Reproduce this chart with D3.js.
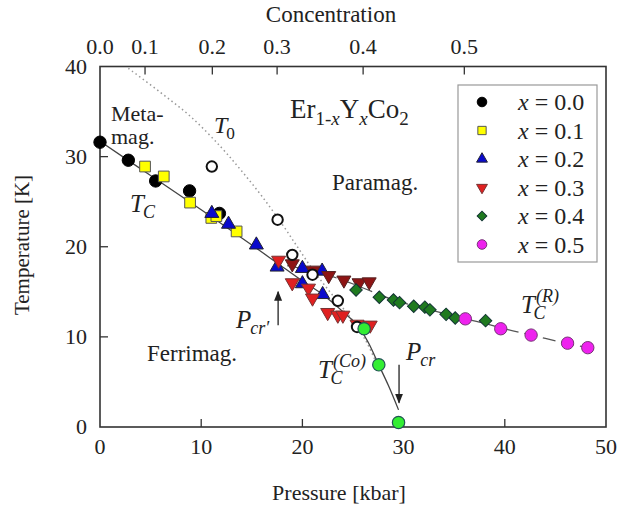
<!DOCTYPE html>
<html>
<head>
<meta charset="utf-8">
<script src="https://cdn.jsdelivr.net/npm/d3@7/dist/d3.min.js"></script>
</head>
<body style="margin:0">
<svg id="c" width="618" height="510"></svg>
<script>
// Er(1-x)Y(x)Co2 magnetic phase diagram: ordering temperature vs pressure

// measured ordering temperatures [pressure kbar, T K]
const x00 = [[0, 31.6], [2.8, 29.6], [5.5, 27.3], [8.85, 26.2], [11.8, 23.7]];
const x01 = [[4.45, 28.9], [6.3, 27.8], [8.9, 24.9], [11.0, 23.2], [11.5, 23.4], [13.5, 21.7]];
const x02 = [[11.05, 23.7], [12.7, 22.5], [15.45, 20.2], [17.5, 17.75], [20.0, 17.6],
             [21.95, 17.3], [20.0, 15.9], [22.0, 14.7]];
const x03Co = [[17.65, 18.5], [19.0, 16.0], [20.6, 15.4], [21.0, 14.3], [22.5, 12.7],
               [23.5, 12.4], [24.0, 12.4], [25.4, 11.4], [26.7, 11.3]];
const x03R = [[19.0, 18.1], [21.05, 17.4], [22.6, 16.8], [24.1, 16.3], [25.6, 16.0], [26.6, 16.1]];
const x04 = [[25.3, 15.2], [27.6, 14.4], [29.0, 14.1], [29.6, 13.8], [31.0, 13.4], [32.1, 13.3],
             [32.6, 13.0], [34.2, 12.5], [35.1, 12.1], [38.1, 11.8]];
const x05 = [[36.1, 12.0], [39.6, 10.9], [42.6, 10.2], [46.2, 9.3], [48.2, 8.8]];
const x04Co = [[26.1, 10.9], [27.55, 6.9], [29.5, 0.5]];
const t0Points = [[11.05, 28.9], [17.55, 23.0], [19.0, 19.1], [21.0, 16.9], [23.5, 14.0], [25.4, 11.1]];

// guide curves
const tcLine = [[0, 31.7], [5, 27.9], [10, 24.1], [15, 20.2], [17.5, 18.2], [20, 16.2], [22, 14.7],
                [24, 12.8], [25.5, 11.2], [26.5, 9.4], [27.5, 7.0], [28.5, 4.6], [29.5, 1.9]];
const tcRLine = [[18.5, 17.9], [21, 17.3], [24, 16.3], [26.5, 15.2], [29, 14.1], [32, 13.2],
                 [35, 12.3], [38, 11.5], [40, 10.9], [43, 10.1], [46, 9.3], [48.2, 8.8]];
const t0Line = [[2.8, 39.8], [6, 37.1], [9, 34.4], [12, 31.0], [14, 28.4], [16, 25.6], [18, 22.5],
                [19.5, 20.0], [21, 17.5], [22.5, 15.3], [24, 13.2], [25.3, 11.3], [26.3, 9.5], [27.2, 7.4]];

// axis ticks
const pressureTicks = [0, 10, 20, 30, 40, 50];
const tempTicks = [0, 10, 20, 30, 40];
const concLabels = ["0.0", "0.1", "0.2", "0.3", "0.4", "0.5"];
const concPressure = [0, 4.45, 11.1, 17.5, 26.0, 36.0];
const legendLabels = ["0.0", "0.1", "0.2", "0.3", "0.4", "0.5"];

const serif = "'Tinos'";
const svg = d3.select("#c");
const x = d3.scaleLinear().domain([0, 50]).range([100, 606]);
const y = d3.scaleLinear().domain([0, 40]).range([427, 66.5]);
const ink = "#222";

// every text node goes through this helper
function txt(parent, tx, ty, fs) {
  return parent.append("text").attr("x", tx).attr("y", ty).attr("fill", ink)
    .attr("font-size", fs).style("font-family", serif);
}

// frame and inward ticks drawn from the scales
const frame = svg.append("g");
frame.append("rect")
  .attr("x", x(0)).attr("y", y(40))
  .attr("width", x(50) - x(0)).attr("height", y(0) - y(40))
  .attr("fill", "none").attr("stroke", "#333").attr("stroke-width", 1.6);
pressureTicks.slice(1, -1).forEach(p => {
  frame.append("line").attr("x1", x(p)).attr("x2", x(p)).attr("y1", y(0)).attr("y2", y(0) - 8)
    .attr("stroke", "#333").attr("stroke-width", 1.3);
});
tempTicks.slice(1, -1).forEach(t => {
  frame.append("line").attr("x1", x(0)).attr("x2", x(0) + 8).attr("y1", y(t)).attr("y2", y(t))
    .attr("stroke", "#333").attr("stroke-width", 1.3);
});
concPressure.slice(1).forEach(p => {
  frame.append("line").attr("x1", x(p)).attr("x2", x(p)).attr("y1", y(40)).attr("y2", y(40) + 8)
    .attr("stroke", "#333").attr("stroke-width", 1.3);
});
pressureTicks.forEach(p => txt(svg, x(p), y(0) + 27, 22).attr("text-anchor", "middle").text(p));
tempTicks.forEach(t => txt(svg, x(0) - 13, y(t) + 7, 22).attr("text-anchor", "end").text(t));
concPressure.forEach((p, i) => txt(svg, x(p), y(40) - 13, 22).attr("text-anchor", "middle").text(concLabels[i]));

// axis titles
txt(svg, 339, 500, 22).attr("text-anchor", "middle").text("Pressure [kbar]");
txt(svg, 331, 22, 23).attr("text-anchor", "middle").text("Concentration");
txt(svg, 0, 0, 21).attr("transform", "translate(29,245) rotate(-90)").attr("text-anchor", "middle")
  .text("Temperature [K]");

// guide curves
const smooth = d3.line().x(d => x(d[0])).y(d => y(d[1])).curve(d3.curveCatmullRom);
svg.append("path").datum(t0Line).attr("d", smooth)
  .attr("fill", "none").attr("stroke", "#999").attr("stroke-width", 1.5).attr("stroke-dasharray", "1.5,3");
svg.append("path").datum(tcLine).attr("d", smooth)
  .attr("fill", "none").attr("stroke", "#444").attr("stroke-width", 1.3);
svg.append("path").datum(tcRLine).attr("d", d3.line().x(d => x(d[0])).y(d => y(d[1])).curve(d3.curveMonotoneX))
  .attr("fill", "none").attr("stroke", "#555").attr("stroke-width", 1.3).attr("stroke-dasharray", "13,6");

// markers
function plot(data, type, size, fill, stroke, rot, sw) {
  svg.append("g").selectAll("path").data(data).join("path")
    .attr("d", d3.symbol().type(type).size(size)())
    .attr("transform", d => `translate(${x(d[0])},${y(d[1])}) rotate(${rot || 0})`)
    .attr("fill", fill).attr("stroke", stroke).attr("stroke-width", sw || 1);
}
const styles = [
  { type: d3.symbolCircle, size: 120, fill: "#000", stroke: "#000", rot: 0 },
  { type: d3.symbolSquare, size: 115, fill: "#ffff00", stroke: "#555", rot: 0 },
  { type: d3.symbolTriangle, size: 85, fill: "#0a0acc", stroke: "#223", rot: 0 },
  { type: d3.symbolTriangle, size: 85, fill: "#e02020", stroke: "#733", rot: 180 },
  { type: d3.symbolSquare, size: 78, fill: "#1f7a1f", stroke: "#133", rot: 45 },
  { type: d3.symbolCircle, size: 120, fill: "#ee22ee", stroke: "#737", rot: 0 }
];
plot(x00, styles[0].type, styles[0].size, styles[0].fill, styles[0].stroke);
plot(x01, styles[1].type, styles[1].size, styles[1].fill, styles[1].stroke);
plot(x02, styles[2].type, styles[2].size, styles[2].fill, styles[2].stroke);
plot(x03R, styles[3].type, styles[3].size, "#8e1414", "#522", 180);
plot(x03Co, styles[3].type, styles[3].size, styles[3].fill, styles[3].stroke, 180);
plot(t0Points, d3.symbolCircle, 85, "#fff", "#111", 0, 2);
plot(x04, styles[4].type, styles[4].size, styles[4].fill, styles[4].stroke, 45);
plot(x05, styles[5].type, styles[5].size, styles[5].fill, styles[5].stroke);
plot(x04Co, d3.symbolCircle, 120, "#33ee33", "#255", 0, 1.2);

// legend
svg.append("rect").attr("x", 458).attr("y", 85).attr("width", 139).attr("height", 177)
  .attr("fill", "#fff").attr("stroke", "#999").attr("stroke-width", 1.2);
styles.forEach((s, i) => {
  const cy = 102 + i * 28.5;
  svg.append("path").attr("d", d3.symbol().type(s.type).size(s.size * 0.6)())
    .attr("transform", `translate(482,${cy}) rotate(${s.rot})`)
    .attr("fill", s.fill).attr("stroke", s.stroke).attr("stroke-width", 1);
  const t = txt(svg, 518, cy + 8, 24);
  t.append("tspan").attr("font-style", "italic").text("x");
  t.append("tspan").text(" = " + legendLabels[i]);
});

// compound formula
const f = txt(svg, 290, 118, 27);
f.append("tspan").text("Er");
f.append("tspan").attr("font-size", 19).attr("dy", 7).text("1-");
f.append("tspan").attr("font-size", 19).attr("font-style", "italic").text("x");
f.append("tspan").attr("dy", -7).text("Y");
f.append("tspan").attr("font-size", 19).attr("font-style", "italic").attr("dy", 7).text("x");
f.append("tspan").attr("dy", -7).text("Co");
f.append("tspan").attr("font-size", 19).attr("dy", 7).text("2");

// region labels
txt(svg, 111, 121, 22).text("Meta-");
txt(svg, 111, 144, 22).text("mag.");
txt(svg, 332, 190, 23).text("Paramag.");
txt(svg, 147, 361, 23).text("Ferrimag.");

// italic symbol with sub/superscripts, one text element each
function sym2(tx, ty, main, sub, sup, fs) {
  const t = txt(svg, tx, ty, fs);
  const small = fs * 0.72;
  t.append("tspan").attr("font-style", "italic").text(main);
  if (sup) {
    t.append("tspan").attr("dx", 1).attr("dy", -11).attr("font-size", small)
      .attr("font-style", "italic").text(sup);
    t.append("tspan").attr("x", tx + fs * 0.5).attr("dy", 17).attr("font-size", small)
      .attr("font-style", "italic").text(sub);
  } else {
    t.append("tspan").attr("dx", -1).attr("dy", 6).attr("font-size", small)
      .attr("font-style", sub === "0" ? "normal" : "italic").text(sub);
  }
}
sym2(214, 133, "T", "0", null, 24);
sym2(130, 212, "T", "C", null, 25);
sym2(236, 328, "P", "cr\u2032", null, 25);
sym2(406, 360, "P", "cr", null, 25);
sym2(318, 378, "T", "C", "(Co)", 25);
sym2(521, 313, "T", "C", "(R)", 25);

// pressure arrows
const defs = svg.append("defs");
defs.append("marker").attr("id", "head").attr("viewBox", "0 0 10 10").attr("refX", 9).attr("refY", 5)
  .attr("markerWidth", 10).attr("markerHeight", 10).attr("markerUnits", "userSpaceOnUse").attr("orient", "auto")
  .append("path").attr("d", "M0,1 L10,5 L0,9 Z").attr("fill", "#222");
svg.append("line").attr("x1", x(17.6)).attr("y1", y(11.3)).attr("x2", x(17.6)).attr("y2", y(15.0))
  .attr("stroke", "#222").attr("stroke-width", 1.3).attr("marker-end", "url(#head)");
svg.append("line").attr("x1", x(29.55)).attr("y1", y(6.9)).attr("x2", x(29.55)).attr("y2", y(2.7))
  .attr("stroke", "#222").attr("stroke-width", 1.3).attr("marker-end", "url(#head)");
</script>
</body>
</html>
